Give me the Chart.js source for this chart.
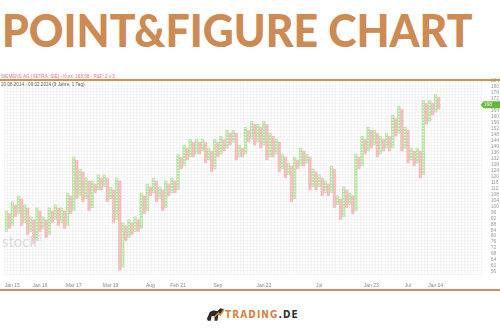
<!DOCTYPE html>
<html>
<head>
<meta charset="utf-8">
<script src="https://cdn.jsdelivr.net/npm/chart.js@4.4.1/dist/chart.umd.min.js"></script>
<style>
  html, body { margin: 0; padding: 0; background: #fff; }
  #page { position: relative; width: 500px; height: 332px; overflow: hidden; background: #fff; }
  #title { position: absolute; left: 2px; top: 8px; font-family: Lato; font-weight: 900; font-size: 45px; line-height: 45px; color: #cd8a53; white-space: nowrap; transform-origin: 0 0; }
  #chartBox { position: absolute; left: 0; top: 70px; width: 500px; height: 220px; }
  .rule { position: absolute; left: 0; width: 500px; height: 2px; background: #d88d55; }
  #wm { position: absolute; left: 2px; top: 232px; font-family: Lato; font-size: 15px; color: #dadada; }
  #wm sup { font-size: 8px; }
  #logo { position: absolute; left: 206px; top: 303px; height: 22px; display: flex; align-items: center; }
  #logo span { font-family: "DejaVu Sans Condensed", "DejaVu Sans"; font-weight: bold; font-size: 10px; letter-spacing: 1.1px; }
</style>
</head>
<body>
<div id="page">
  <div id="title">POINT&amp;FIGURE CHART</div>
  <div id="chartBox"><canvas id="pfChart"></canvas></div>
  <div class="rule" style="top:79px"></div>
  <div class="rule" style="top:289px"></div>
  <div id="wm">stock<sup>3</sup></div>
  <div id="logo">
    <svg width="19" height="20" viewBox="0 0 20 20">
      <path d="M1 15 L4 8 L8 6 L12 7 L15 4 L19 5 L16 9 L13 11 L12 17 L9 17 L9 12 L6 12 L5 17 L2 17 Z" fill="#2b2b2b"/>
      <path d="M8 14 L13 9 L15 11 L19 5" stroke="#d4843f" stroke-width="1.6" fill="none"/>
    </svg>
    <span style="color:#d4843f">TRADING</span><span style="color:#333">.DE</span>
  </div>
</div>
<script>
// point & figure: box size, start of first column, end value of each column (X/O alternating, X first)
const boxSize = 2;
const firstStart = 84;
const colEnd = [
  96, 86, 102, 94, 106, 88, 100, 82, 92, 76,
  98, 84, 92, 80, 98, 90, 100, 88, 98, 86,
  108, 96, 132, 106, 124, 104, 118, 98, 116, 110,
  120, 112, 120, 104, 112, 90, 118, 58, 88, 78,
  90, 82, 92, 84, 108, 96, 114, 108, 118, 104,
  112, 98, 116, 108, 118, 110, 134, 126, 140, 132,
  144, 134, 144, 136, 144, 130, 138, 124, 144, 134,
  146, 138, 150, 142, 150, 132, 140, 134, 152, 144,
  156, 142, 154, 140, 156, 132, 148, 134, 144, 124,
  134, 120, 128, 104, 132, 126, 138, 128, 134, 112,
  124, 112, 120, 108, 116, 108, 126, 100, 106, 92,
  112, 100, 108, 96, 134, 126, 146, 136, 152, 140,
  150, 134, 146, 138, 148, 138, 160, 148, 166, 138,
  152, 130, 138, 128, 138, 120, 170, 156, 170, 162,
  174, 166
];
const lastPrice = 168;

const priceTicks = [56, 60, 64, 68, 72, 76, 80, 84, 88, 92, 96, 100, 104, 108, 112, 116, 120,
  124, 128, 132, 136, 140, 144, 148, 152, 156, 160, 164, 168, 172, 176, 180, 184];
const dateTickCols = [2, 11, 22, 34, 47, 56, 69, 84, 102, 119, 131, 140];
const dateTickLabels = ['Jan 15', 'Jan 16', 'Mar 17', 'Mar 19', 'Aug', 'Feb 21', 'Sep', 'Jan 22', 'Jul', 'Jan 23', 'Jul', 'Jan 24'];

const headerText = 'SIEMENS AG (XETRA: SIE) - Kurs: 168,68 - P&F: 2 x 3';
const rangeText = '20.08.2014 - 09.02.2024 (9 Jahre, 1 Tag)';

const xMin = -0.5, xMax = 155;
const yMin = 54.6, yMax = 184.64;

// expand columns into boxes
const xBoxes = [], oBoxes = [];
let prevEnd = null;
colEnd.forEach((end, i) => {
  const isX = i % 2 === 0;
  const from = i === 0 ? firstStart : (isX ? prevEnd + boxSize : prevEnd - boxSize);
  const lo = Math.min(from, end), hi = Math.max(from, end);
  for (let v = lo; v <= hi; v += boxSize) (isX ? xBoxes : oBoxes).push({ x: i, y: v });
  prevEnd = end;
});

// fit title to width
const t = document.getElementById('title');
t.style.transform = 'scaleX(' + (471 / t.scrollWidth) + ')';

const extras = {
  id: 'extras',
  afterDraw(chart) {
    const ctx = chart.ctx, area = chart.chartArea;
    ctx.save();
    ctx.font = '4.6px "Liberation Sans"';
    ctx.textBaseline = 'middle';
    ctx.fillStyle = '#ec7070';
    ctx.fillText(headerText, 1, 6.5);
    ctx.fillStyle = '#666';
    ctx.fillText(rangeText, 1, 15);
    // last price tag
    const y = chart.scales.y.getPixelForValue(lastPrice);
    const x0 = area.right - 1;
    ctx.fillStyle = '#62bb38';
    ctx.beginPath();
    ctx.moveTo(x0, y);
    ctx.lineTo(x0 + 3, y - 3.5);
    ctx.lineTo(500, y - 3.5);
    ctx.lineTo(500, y + 3.5);
    ctx.lineTo(x0 + 3, y + 3.5);
    ctx.closePath();
    ctx.fill();
    ctx.fillStyle = '#eaffdf';
    ctx.font = '5px "Liberation Sans"';
    ctx.fillText(String(lastPrice), area.right + 2, y + 0.3);
    ctx.restore();
  }
};

new Chart(document.getElementById('pfChart').getContext('2d'), {
  type: 'scatter',
  data: {
    datasets: [{
      label: 'X',
      data: xBoxes,
      pointStyle: 'rect',
      pointRadius: 1.7,
      borderWidth: 0.7,
      backgroundColor: '#eef9e8',
      borderColor: '#9fda82'
    }, {
      label: 'O',
      data: oBoxes,
      pointStyle: 'rect',
      pointRadius: 1.7,
      borderWidth: 0.7,
      backgroundColor: '#fcd0d2',
      borderColor: '#f7a9ac'
    }]
  },
  options: {
    responsive: true,
    maintainAspectRatio: false,
    animation: false,
    layout: { padding: { top: 10 } },
    plugins: { legend: { display: false }, tooltip: { enabled: false } },
    scales: {
      x: {
        type: 'linear', position: 'bottom', min: xMin, max: xMax,
        grid: { display: false }, border: { display: false },
        afterBuildTicks: a => { a.ticks = dateTickCols.map(v => ({ value: v })); },
        ticks: {
          autoSkip: false, maxRotation: 0, padding: 1, color: '#888',
          font: { size: 5, family: 'Liberation Sans' },
          callback: v => dateTickLabels[dateTickCols.indexOf(v)]
        }
      },
      xg: {
        type: 'linear', position: 'top', min: xMin + 0.5, max: xMax + 0.5,
        grid: { color: '#f3f3f3', drawTicks: false }, border: { display: false },
        ticks: { display: false, stepSize: 1 }
      },
      y: {
        type: 'linear', position: 'right', min: yMin, max: yMax,
        grid: { display: false }, border: { display: false },
        afterBuildTicks: a => { a.ticks = priceTicks.map(v => ({ value: v })); },
        ticks: { autoSkip: false, padding: 1, color: '#999', font: { size: 5, family: 'Liberation Sans' } }
      },
      yg: {
        type: 'linear', position: 'left', min: yMin + 1, max: yMax + 1,
        grid: { color: '#f3f3f3', drawTicks: false }, border: { display: false },
        ticks: { display: false, stepSize: 2 }
      }
    }
  },
  plugins: [extras]
});
</script>
</body>
</html>
